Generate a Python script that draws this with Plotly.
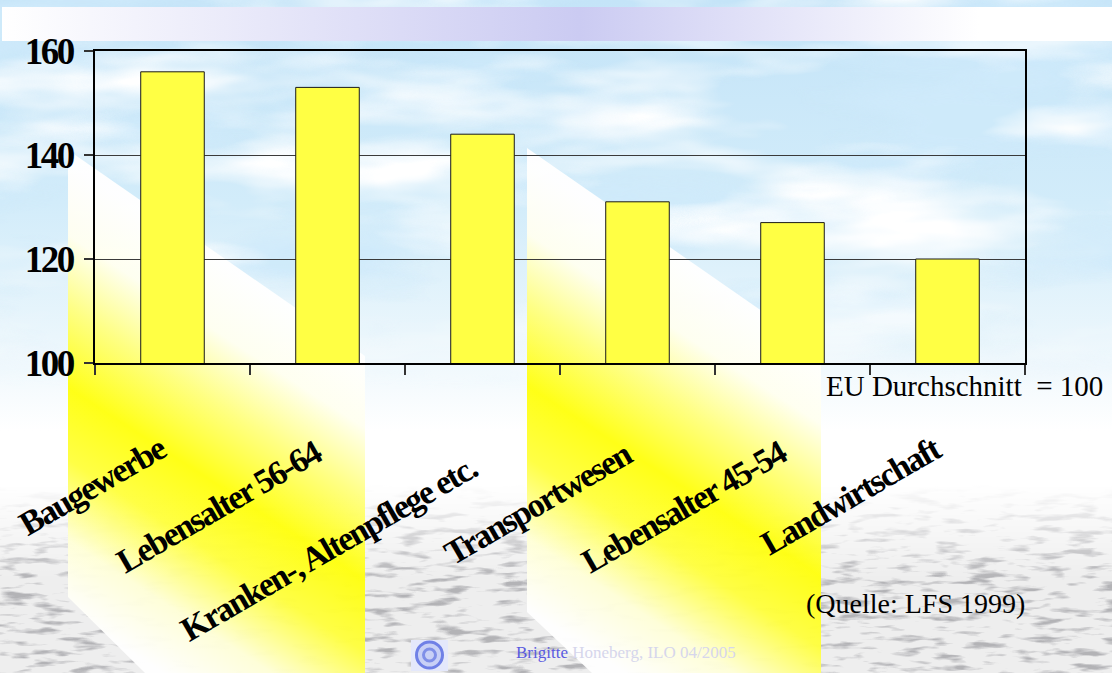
import base64
import plotly.graph_objects as go

# ---------------- data ----------------
categories = ["Baugewerbe", "Lebensalter 56-64", "Kranken-, Altenpflege etc.",
              "Transportwesen", "Lebensalter 45-54", "Landwirtschaft"]
values = [156, 153, 144, 131, 127, 120]
y_ticks = [100, 120, 140, 160]
note_text = "EU Durchschnitt\u00a0\u00a0= 100"
source_text = "(Quelle: LFS 1999)"
footer_name = "Brigitte "
footer_rest = "Honeberg, ILO 04/2005"

# ---------------- layout geometry ----------------
W, H = 1112, 673
L, R, T, B = 95, 87, 51, 310
PW, PH = W - L - R, H - T - B


def px(xp):
    return (xp - L) / PW


def py(yp):
    return (H - B - yp) / PH


# ---------------- decorative background (svg image) ----------------
def panel(gid, dx, dy):
    c = (215 + dx, 500 + dy)
    p1 = (c[0] + 110, c[1] - 170)
    p2 = (c[0] - 95, c[1] + 146)
    grad = (f"<linearGradient id='{gid}' gradientUnits='userSpaceOnUse' x1='{p1[0]}' y1='{p1[1]}' x2='{p2[0]}' y2='{p2[1]}'>"
            "<stop offset='0' stop-color='#ffffff'/>"
            "<stop offset='0.16' stop-color='#fffff0'/>"
            "<stop offset='0.32' stop-color='#ffff80'/>"
            "<stop offset='0.5' stop-color='#ffff10'/>"
            "<stop offset='0.66' stop-color='#ffff40'/>"
            "<stop offset='0.84' stop-color='#ffffd8'/>"
            "<stop offset='1' stop-color='#ffffff'/>"
            "</linearGradient>")
    return grad


def panel_poly(gid, pts):
    s = " ".join(f"{a},{b}" for a, b in pts)
    return f"<polygon points='{s}' fill='url(#{gid})' opacity='0.97'/>"


svg = (
    f"<svg xmlns='http://www.w3.org/2000/svg' width='{W}' height='{H}' viewBox='0 0 {W} {H}'>"
    "<defs>"
    f"<linearGradient id='sky' gradientUnits='userSpaceOnUse' x1='0' y1='0' x2='0' y2='{H}'>"
    "<stop offset='0' stop-color='#c4e4f8'/>"
    "<stop offset='0.3' stop-color='#d2ecfa'/>"
    "<stop offset='0.5' stop-color='#eaf6fc'/>"
    "<stop offset='0.64' stop-color='#ffffff'/>"
    "<stop offset='1' stop-color='#ffffff'/>"
    "</linearGradient>"
    f"<linearGradient id='skym' gradientUnits='userSpaceOnUse' x1='0' y1='0' x2='0' y2='{H}'>"
    "<stop offset='0' stop-color='#ffffff'/>"
    "<stop offset='0.38' stop-color='#ffffff'/>"
    "<stop offset='0.58' stop-color='#000000'/>"
    "</linearGradient>"
    f"<mask id='mskym' maskUnits='userSpaceOnUse' x='0' y='0' width='{W}' height='{H}'>"
    f"<rect width='{W}' height='{H}' fill='url(#skym)'/></mask>"
    f"<linearGradient id='seam' gradientUnits='userSpaceOnUse' x1='0' y1='0' x2='0' y2='{H}'>"
    "<stop offset='0' stop-color='#000000'/>"
    "<stop offset='0.72' stop-color='#000000'/>"
    "<stop offset='0.86' stop-color='#ffffff'/>"
    "<stop offset='1' stop-color='#ffffff'/>"
    "</linearGradient>"
    f"<mask id='mseam' maskUnits='userSpaceOnUse' x='0' y='0' width='{W}' height='{H}'>"
    f"<rect width='{W}' height='{H}' fill='url(#seam)'/></mask>"
    f"<filter id='fblue' filterUnits='userSpaceOnUse' x='0' y='0' width='{W}' height='{H}'>"
    "<feTurbulence type='fractalNoise' baseFrequency='0.0035 0.014' numOctaves='4' seed='4'/>"
    "<feColorMatrix type='matrix' values='0 0 0 0 0.62 0 0 0 0 0.82 0 0 0 0 0.96 3.3 0 0 0 -1.45'/>"
    "</filter>"
    f"<filter id='fwhite' filterUnits='userSpaceOnUse' x='0' y='0' width='{W}' height='{H}'>"
    "<feTurbulence type='fractalNoise' baseFrequency='0.004 0.016' numOctaves='4' seed='9'/>"
    "<feColorMatrix type='matrix' values='0 0 0 0 1 0 0 0 0 1 0 0 0 0 1 3 0 0 0 -1.35'/>"
    "</filter>"
    f"<filter id='fsea' filterUnits='userSpaceOnUse' x='0' y='0' width='{W}' height='{H}'>"
    "<feTurbulence type='fractalNoise' baseFrequency='0.03 0.14' numOctaves='3' seed='2'/>"
    "<feColorMatrix type='matrix' values='0 0 0 0 0.45 0 0 0 0 0.45 0 0 0 0 0.47 4.5 0 0 0 -2.35'/>"
    "</filter>"
    "<linearGradient id='band' x1='0' y1='0' x2='1' y2='0'>"
    "<stop offset='0' stop-color='#ffffff'/>"
    "<stop offset='0.52' stop-color='#cbcbf2'/>"
    "<stop offset='0.88' stop-color='#ffffff'/>"
    "<stop offset='1' stop-color='#ffffff'/>"
    "</linearGradient>"
    + panel("pan1", 0, 0) + panel("pan2", 459, -2) +
    "</defs>"
    f"<rect width='{W}' height='{H}' fill='url(#sky)'/>"
    f"<g mask='url(#mskym)'>"
    f"<rect width='{W}' height='{H}' filter='url(#fblue)'/>"
    f"<rect width='{W}' height='{H}' filter='url(#fwhite)'/>"
    "</g>"
    f"<g mask='url(#mseam)'>"
    f"<rect width='{W}' height='{H}' fill='#eeeeee'/>"
    f"<rect width='{W}' height='{H}' filter='url(#fsea)'/>"
    "</g>"
    f"<rect x='2' y='7' width='{W - 2}' height='34' fill='url(#band)'/>"
    + panel_poly("pan1", [(68, 150), (365, 356), (365, 673), (145, 673), (68, 597)])
    + panel_poly("pan2", [(527, 148), (821, 352), (821, 673), (592, 673), (527, 612)])
    + "<rect x='411' y='640' width='37' height='31' fill='#e4e8fb'/>"
    "<circle cx='429.5' cy='655' r='13' fill='#c8d0f6' stroke='#6f80e6' stroke-width='3'/>"
    "<circle cx='429.5' cy='655' r='6' fill='none' stroke='#7f8fe8' stroke-width='3'/>"
    "</svg>"
)
svg_uri = "data:image/svg+xml;base64," + base64.b64encode(svg.encode("utf-8")).decode("ascii")

# ---------------- figure ----------------
fig = go.Figure()
fig.add_trace(go.Bar(
    x=categories, y=values,
    marker=dict(color="#ffff44", line=dict(color="#1a1a1a", width=1)),
    hoverinfo="x+y",
))

serif = "Liberation Serif, Times New Roman, serif"
label_font = dict(family=serif, size=34, color="black", weight="bold")
label_yshift = [0, -4, -20, -6, -4, 0]
annotations = []
for cat, ys in zip(categories, label_yshift):
    annotations.append(dict(
        x=cat, xref="x", y=py(426), yref="paper",
        text=f"<span style='letter-spacing:-1.8px'>{cat}</span>",
        showarrow=False, textangle=-30,
        xanchor="right", yanchor="top", yshift=ys, xshift=3,
        font=label_font,
    ))
annotations.append(dict(
    x=px(824), y=py(386), xref="paper", yref="paper", text=note_text,
    showarrow=False, xanchor="left", yanchor="middle",
    font=dict(family=serif, size=29, color="black"),
))
annotations.append(dict(
    x=px(804), y=py(603), xref="paper", yref="paper", text=source_text,
    showarrow=False, xanchor="left", yanchor="middle",
    font=dict(family=serif, size=28, color="black"),
))
annotations.append(dict(
    x=px(514), y=py(652), xref="paper", yref="paper",
    text=f"<span style='color:#5a5ae0'>{footer_name}</span><span style='color:#d6d6ec'>{footer_rest}</span>",
    showarrow=False, xanchor="left", yanchor="middle",
    font=dict(family=serif, size=17, color="#5a5ae0"),
))

fig.update_layout(
    width=W, height=H,
    margin=dict(l=L, r=R, t=T, b=B, pad=0),
    paper_bgcolor="white",
    plot_bgcolor="rgba(0,0,0,0)",
    showlegend=False,
    bargap=0.59,
    annotations=annotations,
    images=[dict(
        source=svg_uri, xref="paper", yref="paper",
        x=-L / PW, y=1 + T / PH, sizex=W / PW, sizey=H / PH,
        xanchor="left", yanchor="top", sizing="stretch", layer="below",
    )],
)
fig.update_xaxes(
    type="category", range=[-0.5, len(categories) - 0.5], autorange=False,
    showline=True, linecolor="black", linewidth=1.5, mirror=True,
    ticks="outside", ticklen=10, tickcolor="#333333", tickwidth=1.5,
    tickson="boundaries", showticklabels=False, showgrid=False, zeroline=False,
)
fig.update_yaxes(
    range=[100, 160], autorange=False, tickvals=y_ticks,
    ticktext=[f"<span style='letter-spacing:-2.5px'>{v}</span>" for v in y_ticks],
    showline=True, linecolor="black",
    linewidth=1.5, mirror=True, ticks="outside", ticklen=9, tickcolor="#333333", tickwidth=1.5,
    showgrid=True, gridcolor="#3a3a3a", gridwidth=1, zeroline=False,
    ticklabelstandoff=4,
    tickfont=dict(family=serif, size=37, color="black", weight="bold"),
)

fig.write_html(
    "out.html",
    config={"displayModeBar": False},
    post_script="document.body.style.margin='0';document.body.style.overflow='hidden';",
)
